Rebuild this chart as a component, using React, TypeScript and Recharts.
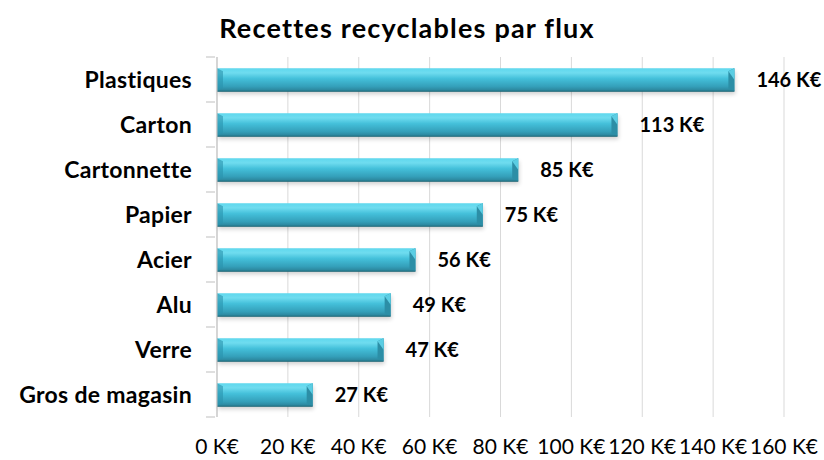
import { Bar, BarChart, CartesianGrid, LabelList, XAxis, YAxis } from 'recharts'

const categories = ['Plastiques', 'Carton', 'Cartonnette', 'Papier', 'Acier', 'Alu', 'Verre', 'Gros de magasin']
const recettes = [146, 113, 85, 75, 56, 49, 47, 27]
const xTicks = [0, 20, 40, 60, 80, 100, 120, 140, 160]

const data = categories.map((flux, i) => ({ flux, recettes: recettes[i] }))

const FONT = 'Lato, "Open Sans", sans-serif'
const TOP = 57
const XAXIS_H = 43
const HEIGHT = 460
const BAND = (HEIGHT - TOP - XAXIS_H) / categories.length

const fmt = (v: number) => `${v} K€`

// category label + Excel-style tick marks between the bands
function CategoryTick(props: any) {
  const { x, y, payload, index } = props
  const last = index === categories.length - 1
  return (
    <g>
      <text
        x={x - 17}
        y={y}
        dy={8}
        textAnchor="end"
        fontFamily={FONT}
        fontWeight={700}
        fontSize={23}
        letterSpacing={0.3}
        fill="#000"
      >
        {payload.value}
      </text>
      <line x1={x - 3} x2={x + 6} y1={y - BAND / 2} y2={y - BAND / 2} stroke="#bfbfbf" />
      {last && <line x1={x - 3} x2={x + 6} y1={y + BAND / 2} y2={y + BAND / 2} stroke="#bfbfbf" />}
    </g>
  )
}

function BevelBar(props: any) {
  const { x, y, width, height } = props
  if (!width || width <= 0) return null
  const b = 6
  return (
    <g>
      <rect x={x + 1} y={y + 3} width={width} height={height} fill="#000" opacity={0.18} filter="url(#barShadow)" />
      <rect x={x} y={y} width={width} height={height} fill="url(#barFill)" />
      <polygon points={`${x},${y} ${x + b},${y + 3} ${x + b},${y + height - 3} ${x},${y + height}`} fill="#2a93ad" opacity={0.6} />
      <polygon
        points={`${x + width - b},${y + 3} ${x + width},${y} ${x + width},${y + height} ${x + width - b},${y + height - 3}`}
        fill="#2c8ea6"
      />
      <polygon points={`${x + width - b},${y + 3} ${x + width},${y} ${x + width},${y + height / 2}`} fill="#5bcde3" />
      <line x1={x} x2={x + width} y1={y + height} y2={y + height} stroke="#1f6878" strokeWidth={1} />
    </g>
  )
}

export default function App() {
  return (
    <div style={{ position: 'absolute', left: 0, top: 0, width: 824, height: 460, background: '#fff' }}>
      <div
        style={{
          position: 'absolute',
          left: 0,
          top: 10,
          width: 814,
          textAlign: 'center',
          fontFamily: FONT,
          fontWeight: 700,
          fontSize: 27,
          letterSpacing: 1.2,
          lineHeight: '36px',
          color: '#000',
        }}
      >
        Recettes recyclables par flux
      </div>
      <BarChart
        width={824}
        height={HEIGHT}
        data={data}
        layout="vertical"
        barCategoryGap="25%"
        margin={{ top: TOP, right: 40, left: 0, bottom: 0 }}
      >
        <defs>
          <linearGradient id="barFill" x1="0" y1="0" x2="0" y2="1">
            <stop offset="0%" stopColor="#5fd8ee" />
            <stop offset="20%" stopColor="#6fdcef" />
            <stop offset="45%" stopColor="#44c0da" />
            <stop offset="80%" stopColor="#349fb9" />
            <stop offset="100%" stopColor="#2a8096" />
          </linearGradient>
          <filter id="barShadow" x="-5%" y="-50%" width="110%" height="200%">
            <feGaussianBlur stdDeviation="2" />
          </filter>
        </defs>
        <CartesianGrid horizontal={false} stroke="#d9d9d9" />
        <XAxis
          type="number"
          domain={[0, 160]}
          ticks={xTicks}
          tickFormatter={fmt}
          axisLine={false}
          tickLine={false}
          height={XAXIS_H}
          tickMargin={16}
          tick={{ fontFamily: FONT, fontSize: 21, fill: '#000' }}
          interval={0}
        />
        <YAxis
          type="category"
          dataKey="flux"
          width={217}
          axisLine={{ stroke: '#bfbfbf' }}
          tickLine={false}
          tick={<CategoryTick />}
          interval={0}
        />
        <Bar dataKey="recettes" shape={<BevelBar />} isAnimationActive={false}>
          <LabelList
            dataKey="recettes"
            position="right"
            offset={22}
            formatter={(v: any) => fmt(v)}
            style={{ fontFamily: FONT, fontWeight: 700, fontSize: 20, fill: '#000' }}
          />
        </Bar>
      </BarChart>
    </div>
  )
}
